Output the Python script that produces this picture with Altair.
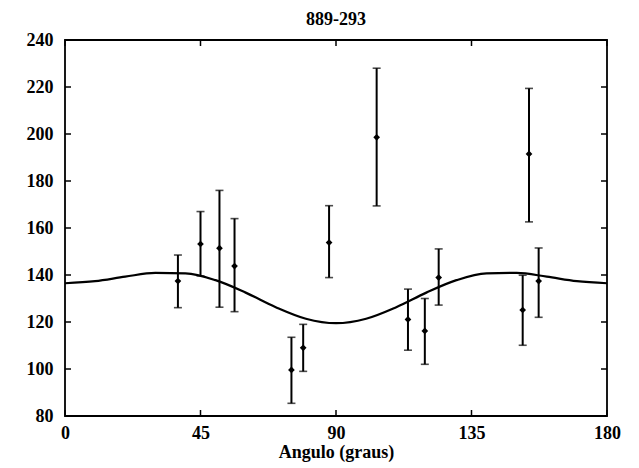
import altair as alt
import pandas as pd

# Measurements (angle in degrees, value, error bar low/high)
angles = [37.5, 45.0, 51.3, 56.3, 75.2, 79.1, 87.7, 103.5, 113.9, 119.5, 124.1, 152.0, 154.1, 157.3]
values = [137.4, 153.2, 151.4, 143.8, 99.6, 109.0, 153.8, 198.6, 121.1, 116.2, 138.9, 125.1, 191.5, 137.4]
lows   = [126.1, 139.6, 126.3, 124.4, 85.4, 99.0, 138.9, 169.4, 108.0, 102.0, 127.2, 110.1, 162.6, 122.0]
highs  = [148.5, 167.0, 176.0, 164.0, 113.5, 119.0, 169.5, 228.0, 134.0, 130.0, 151.1, 139.9, 219.4, 151.5]

# Fitted curve
curve_angles = [0, 10, 20, 30, 40, 50, 60, 70, 80, 90, 100, 110, 120, 130, 140, 150, 160, 170, 180]
curve_values = [136.5, 137.4, 139.3, 140.9, 140.7, 137.8, 132.5, 126.3, 121.4, 119.5, 121.4, 126.3,
                132.5, 137.8, 140.7, 140.9, 139.3, 137.4, 136.5]

x_ticks = [0, 45, 90, 135, 180]
y_ticks = [80, 100, 120, 140, 160, 180, 200, 220, 240]

W, H = 542, 376
FONT = "Liberation Serif"

pts = pd.DataFrame({"a": angles, "v": values, "lo": lows, "hi": highs})
curve = pd.DataFrame({"a": curve_angles, "v": curve_values})
xt = pd.DataFrame({"t": x_ticks})
yt = pd.DataFrame({"t": y_ticks})

xs = alt.Scale(domain=[0, 180], nice=False, zero=False)
ys = alt.Scale(domain=[80, 240], nice=False, zero=False)

xaxis = alt.Axis(values=x_ticks, ticks=False, domain=False, grid=False, labelPadding=8,
                 title="Angulo (graus)", titlePadding=1, labelFont=FONT, titleFont=FONT,
                 labelFontSize=18, titleFontSize=18, labelFontWeight="bold", titleFontWeight="bold",
                 labelColor="black", titleColor="black", labelFlush=False)
yaxis = alt.Axis(values=y_ticks, ticks=False, domain=False, grid=False, labelPadding=12,
                 title=None, labelFont=FONT, labelFontSize=18, labelFontWeight="bold",
                 labelColor="black", labelFlush=False)

base = alt.Chart(pts)

line = alt.Chart(curve).mark_line(color="black", strokeWidth=2.2, interpolate="monotone").encode(
    x=alt.X("a:Q", scale=xs, axis=xaxis),
    y=alt.Y("v:Q", scale=ys, axis=yaxis),
)

bars = base.mark_rule(color="black", strokeWidth=2).encode(
    x=alt.X("a:Q", scale=xs), y=alt.Y("lo:Q", scale=ys), y2="hi:Q"
)
cap_lo = base.mark_tick(color="black", orient="horizontal", size=8, thickness=1.6).encode(
    x=alt.X("a:Q", scale=xs), y=alt.Y("lo:Q", scale=ys)
)
cap_hi = base.mark_tick(color="black", orient="horizontal", size=8, thickness=1.6).encode(
    x=alt.X("a:Q", scale=xs), y=alt.Y("hi:Q", scale=ys)
)
dots = base.mark_point(shape="diamond", filled=True, size=45, color="black", opacity=1).encode(
    x=alt.X("a:Q", scale=xs), y=alt.Y("v:Q", scale=ys)
)

xt_bot = alt.Chart(xt).mark_rule(color="black", strokeWidth=1.5).encode(
    x=alt.X("t:Q", scale=xs), y=alt.value(H), y2=alt.value(H - 6))
xt_top = alt.Chart(xt).mark_rule(color="black", strokeWidth=1.5).encode(
    x=alt.X("t:Q", scale=xs), y=alt.value(0), y2=alt.value(6))
yt_left = alt.Chart(yt).mark_rule(color="black", strokeWidth=1.5).encode(
    y=alt.Y("t:Q", scale=ys), x=alt.value(0), x2=alt.value(6))
yt_right = alt.Chart(yt).mark_rule(color="black", strokeWidth=1.5).encode(
    y=alt.Y("t:Q", scale=ys), x=alt.value(W), x2=alt.value(W - 6))

chart = alt.layer(line, bars, cap_lo, cap_hi, dots, xt_bot, xt_top, yt_left, yt_right).properties(
    width=W, height=H,
    title=alt.TitleParams("889-293", font=FONT, fontSize=18, fontWeight="bold", color="black",
                          anchor="middle", offset=2),
    autosize=alt.AutoSizeParams(type="none"),
    padding={"left": 57, "top": 32, "right": 24, "bottom": 60},
    background="white",
).configure_view(stroke="black", strokeWidth=1.8)

chart.save("out.html", embed_options={"renderer": "svg", "actions": False})
